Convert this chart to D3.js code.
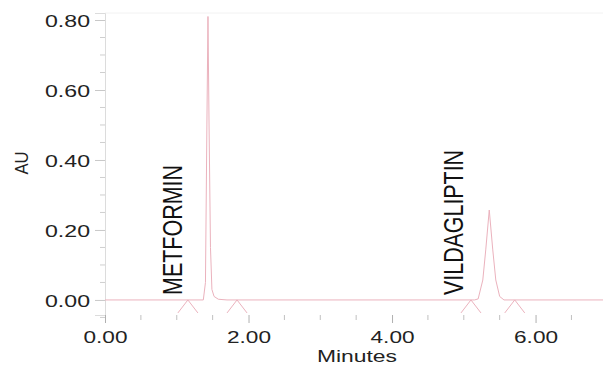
<!DOCTYPE html>
<html><head><meta charset="utf-8">
<script src="https://cdn.jsdelivr.net/npm/d3@7"></script>
<style>body{margin:0;background:#fff}svg{display:block}</style>
</head><body>
<svg id="c" width="603" height="365"></svg>
<script>
// ---- data ----
const timeMin = [0, 1.37, 1.40, 1.42, 1.435, 1.45, 1.47, 1.49, 1.52, 1.58, 1.70, 5.15, 5.20, 5.265, 5.306, 5.355, 5.404, 5.446, 5.50, 5.56, 6.94];
const absorbance = [0, 0, 0.05, 0.50, 0.81, 0.50, 0.15, 0.03, 0.01, 0.002, 0, 0, 0.003, 0.057, 0.143, 0.257, 0.143, 0.057, 0.01, 0, 0];
const peakNames = ["METFORMIN", "VILDAGLIPTIN"];
const peakLabelTimes = [1.07, 4.99];
const integrationMarks = [1.155, 1.84, 5.10, 5.71];
const yMajorTicks = [0, 0.2, 0.4, 0.6, 0.8];
const yMinorTicks = [-0.05, 0.05, 0.1, 0.15, 0.25, 0.3, 0.35, 0.45, 0.5, 0.55, 0.65, 0.7, 0.75];
const xMajorTicks = [0, 2, 4, 6];
const xMinorTicks = [0.5, 1, 1.5, 2.5, 3, 3.5, 4.5, 5, 5.5, 6.5];
const xTitle = "Minutes";
const yTitle = "AU";

// ---- chart ----
const svg = d3.select("#c");
const x = d3.scaleLinear().domain([0, 6.94]).range([105, 603]);
const y = d3.scaleLinear().domain([-0.043, 0.82]).range([315, 13]);
const fmt = d3.format(".2f");
const font = "'Liberation Sans', Arial, sans-serif";
const lineCol = "#ebb2bd";

// top faint frame
svg.append("line").attr("x1", x(0)).attr("x2", 603).attr("y1", y(0.82)).attr("y2", y(0.82))
  .attr("stroke", "#f2f2f2").attr("stroke-width", 1);

// y axis
const gy = svg.append("g").attr("transform", `translate(${x(0)},0)`)
  .call(d3.axisLeft(y).tickValues(yMajorTicks).tickSize(10).tickPadding(5).tickFormat(fmt));
gy.select(".domain").attr("stroke", "#dcdcdc");
gy.selectAll(".tick line").attr("stroke", "#c8c8c8");
gy.selectAll(".tick text").attr("font-family", font).attr("font-size", 17).attr("fill", "#222")
  .attr("textLength", 45).attr("lengthAdjust", "spacingAndGlyphs").attr("dy", "0.36em");
svg.append("g").selectAll("line").data(yMinorTicks).join("line")
  .attr("x1", x(0) - 5).attr("x2", x(0)).attr("y1", d => y(d)).attr("y2", d => y(d))
  .attr("stroke", "#cfcfcf");

// x axis (ticks only)
const gx = svg.append("g").attr("transform", `translate(0,${y(-0.043)})`)
  .call(d3.axisBottom(x).tickValues(xMajorTicks).tickSize(8).tickPadding(6).tickFormat(fmt));
gx.select(".domain").remove();
gx.selectAll(".tick line").attr("stroke", "#b0b0b0");
gx.selectAll(".tick text").attr("font-family", font).attr("font-size", 17).attr("fill", "#222")
  .attr("textLength", 44).attr("lengthAdjust", "spacingAndGlyphs").attr("dy", "0.85em");
svg.append("g").selectAll("line").data(xMinorTicks).join("line")
  .attr("x1", d => x(d)).attr("x2", d => x(d)).attr("y1", y(-0.043)).attr("y2", y(-0.043) + 5)
  .attr("stroke", "#c0c0c0");

// axis titles
svg.append("text").attr("x", 357).attr("y", 362).attr("text-anchor", "middle")
  .attr("font-family", font).attr("font-size", 16).attr("fill", "#222")
  .attr("textLength", 80).attr("lengthAdjust", "spacingAndGlyphs").text(xTitle);
svg.append("text").attr("transform", "translate(28,163) rotate(-90)").attr("text-anchor", "middle")
  .attr("font-family", font).attr("font-size", 18).attr("fill", "#222")
  .attr("textLength", 23).attr("lengthAdjust", "spacingAndGlyphs").text(yTitle);

// chromatogram trace
const pts = timeMin.map((t, i) => [t, absorbance[i]]);
svg.append("path").datum(pts)
  .attr("d", d3.line().x(d => x(d[0])).y(d => y(d[1])))
  .attr("fill", "none").attr("stroke", lineCol).attr("stroke-width", 1);

// integration marks
svg.append("g").selectAll("path").data(integrationMarks).join("path")
  .attr("d", d => `M${x(d) - 10},${y(0) + 13}L${x(d)},${y(0)}L${x(d) + 10},${y(0) + 13}`)
  .attr("fill", "none").attr("stroke", lineCol).attr("stroke-width", 1);

// peak labels
const labelLens = [130, 145];
svg.append("g").selectAll("text").data(peakNames).join("text")
  .attr("transform", (d, i) => `translate(${x(peakLabelTimes[i])},${y(0) - 5}) rotate(-90)`)
  .attr("font-family", font).attr("font-size", 27).attr("fill", "#111")
  .attr("textLength", (d, i) => labelLens[i]).attr("lengthAdjust", "spacingAndGlyphs")
  .text(d => d);
</script>
</body></html>
